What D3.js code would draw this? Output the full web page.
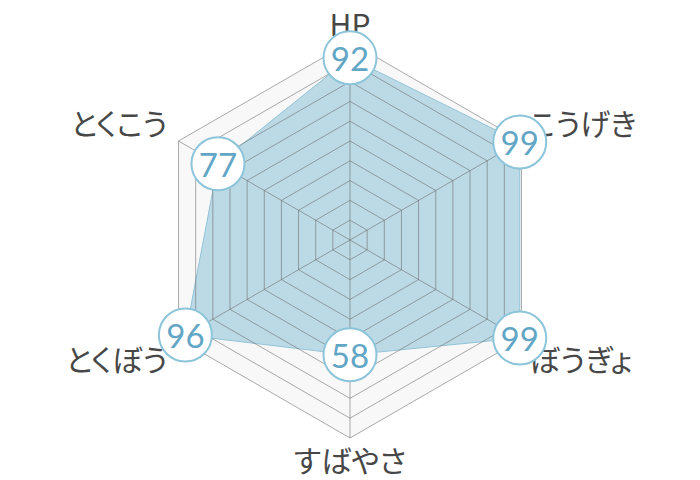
<!DOCTYPE html>
<html>
<head>
<meta charset="utf-8">
<script src="https://cdn.jsdelivr.net/npm/d3@7"></script>
<style>
  body { margin: 0; background: #fff; }
  .label { font-family: "Noto Sans CJK JP", "Noto Sans", sans-serif; font-feature-settings: "palt"; }
  .num { font-family: Lato, "Noto Sans", sans-serif; font-weight: 400; }
</style>
</head>
<body>
<script>
// stats, clockwise from the top
var categories = ["HP", "こうげき", "ぼうぎょ", "すばやさ", "とくぼう", "とくこう"];
var values = [92, 99, 99, 58, 96, 77];
var ringTicks = [10, 20, 30, 40, 50, 60, 70, 80, 90, 100];

var width = 700, height = 480,
    cx = 350, cy = 240, radius = 198;

var svg = d3.select("body")
    .append("svg")
    .attr("width", width)
    .attr("height", height);

var g = svg.append("g")
    .attr("transform", "translate(" + cx + "," + cy + ")");

var r = d3.scaleLinear().domain([0, 100]).range([0, radius]);
var angle = d3.scalePoint()
    .domain(categories.concat(["_end"]))
    .range([0, 2 * Math.PI]);

function pt(cat, v) {
    var a = angle(cat);
    return [Math.sin(a) * r(v), -Math.cos(a) * r(v)];
}

var line = d3.line();

// outer background
g.append("path")
    .attr("d", line(categories.map(function (c) { return pt(c, 100); })) + "Z")
    .attr("fill", "#f8f8f8");

// data area
g.append("path")
    .attr("d", line(categories.map(function (c, i) { return pt(c, values[i]); })) + "Z")
    .attr("fill", "#bcdae6")
    .attr("stroke", "#92c3d8")
    .attr("stroke-width", 1);

// rings
g.selectAll(".ring")
    .data(ringTicks)
    .enter()
    .append("path")
    .attr("class", "ring")
    .attr("d", function (t) {
        return line(categories.map(function (c) { return pt(c, t); })) + "Z";
    })
    .attr("fill", "none")
    .attr("stroke", "#666")
    .attr("stroke-opacity", 0.55)
    .attr("stroke-width", 1);

// spokes
g.selectAll(".spoke")
    .data(categories)
    .enter()
    .append("line")
    .attr("class", "spoke")
    .attr("x1", 0).attr("y1", 0)
    .attr("x2", function (c) { return pt(c, 100)[0]; })
    .attr("y2", function (c) { return pt(c, 100)[1]; })
    .attr("stroke", "#666")
    .attr("stroke-opacity", 0.55)
    .attr("stroke-width", 1);

// axis labels
g.selectAll(".label")
    .data(categories)
    .enter()
    .append("text")
    .attr("class", "label")
    .attr("x", function (c) {
        var p = pt(c, 100);
        if (Math.abs(p[0]) < 1) return p[0];
        return p[0] + (p[0] > 0 ? 8 : -11);
    })
    .attr("y", function (c) {
        var p = pt(c, 100);
        if (Math.abs(p[0]) < 1) return p[1] + (p[1] < 0 ? -19 : 21);
        return p[1] + (p[1] < 0 ? -19 : 19);
    })
    .attr("text-anchor", function (c) {
        var p = pt(c, 100);
        if (Math.abs(p[0]) < 1) return "middle";
        return p[0] > 0 ? "start" : "end";
    })
    .attr("dominant-baseline", "central")
    .attr("font-size", 30)
    .attr("fill", "#474747")
    .text(function (c) { return c; });

// value markers
var marks = g.selectAll(".mark")
    .data(categories)
    .enter()
    .append("g")
    .attr("class", "mark")
    .attr("transform", function (c, i) {
        return "translate(" + pt(c, values[i]) + ")";
    });

marks.append("circle")
    .attr("r", 26.5)
    .attr("fill", "#fff")
    .attr("stroke", "#8cc4da")
    .attr("stroke-width", 2);

marks.append("text")
    .attr("class", "num")
    .attr("text-anchor", "middle")
    .attr("dominant-baseline", "central")
    .attr("font-size", 33)
    .attr("fill", "#62a6c6")
    .text(function (c, i) { return values[i]; });
</script>
</body>
</html>
